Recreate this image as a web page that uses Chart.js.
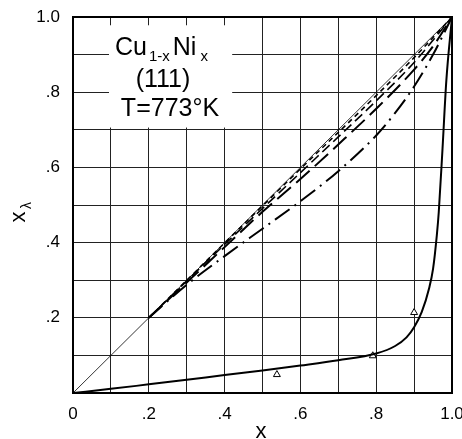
<!DOCTYPE html>
<html><head><meta charset="utf-8">
<script src="https://cdn.jsdelivr.net/npm/chart.js@4.4.1/dist/chart.umd.min.js"></script>
<style>html,body{margin:0;padding:0;background:#fff}#wrap{width:462px;height:439px}</style>
</head><body><div id="wrap"><canvas id="c" width="462" height="439"></canvas></div>
<script>
// Diagonal reference line
const diagX = [0, 1];
const diagY = [0, 1];
// Thick solid curve
const solidX = [0, 0.1, 0.2, 0.3, 0.4, 0.5, 0.6, 0.7, 0.8, 0.85, 0.88, 0.9, 0.92, 0.94, 0.95, 0.96, 0.965, 0.975, 0.985, 1.0];
const solidY = [0, 0.011, 0.023, 0.035, 0.048, 0.06, 0.073, 0.087, 0.105, 0.125, 0.148, 0.175, 0.215, 0.28, 0.33, 0.42, 0.48, 0.65, 0.83, 1.0];
// Short-dash curve (closest to diagonal)
const dashAX = [0.2, 0.4, 0.6, 0.8, 0.9, 1.0];
const dashAY = [0.2, 0.399, 0.596, 0.791, 0.892, 1.0];
// Medium-dash curve
const dashBX = [0.2, 0.4, 0.6, 0.7, 0.8, 0.9, 1.0];
const dashBY = [0.2, 0.395, 0.586, 0.681, 0.777, 0.879, 1.0];
// Long-dash curve
const dashCX = [0.2, 0.3, 0.4, 0.5, 0.6, 0.7, 0.8, 0.9, 0.95, 1.0];
const dashCY = [0.2, 0.294, 0.388, 0.482, 0.569, 0.661, 0.756, 0.86, 0.922, 1.0];
// Long dash-dot curve
const dashDX = [0.2, 0.3, 0.4, 0.5, 0.6, 0.7, 0.8, 0.85, 0.9, 0.95, 1.0];
const dashDY = [0.2, 0.288, 0.364, 0.437, 0.51, 0.59, 0.685, 0.745, 0.815, 0.9, 1.0];
// Triangle data points
const triX = [0.538, 0.791, 0.90];
const triY = [0.049, 0.099, 0.214];
// Tick labels
const xTickLabels = ['0', '.2', '.4', '.6', '.8', '1.0'];
const yTickLabels = ['', '.2', '.4', '.6', '.8', '1.0'];

const pts = (xs, ys) => xs.map((x, i) => ({x, y: ys[i]}));
const FONT = "'Liberation Sans', Arial, sans-serif";

const overlay = {
  id: 'overlay',
  beforeDatasetsDraw(chart) {
    const {ctx, scales: {x, y}} = chart;
    ctx.save();
    ctx.fillStyle = '#fff';
    const l = x.getPixelForValue(0.095), r = x.getPixelForValue(0.42);
    const t = y.getPixelForValue(0.978), b = y.getPixelForValue(0.706);
    ctx.fillRect(l, t, r - l, b - t);
    ctx.restore();
  },
  afterDraw(chart) {
    const {ctx, chartArea: a} = chart;
    ctx.save();
    ctx.strokeStyle = '#000';
    ctx.lineWidth = 2;
    ctx.strokeRect(a.left, a.top, a.right - a.left, a.bottom - a.top);
    ctx.fillStyle = '#000';
    ctx.textBaseline = 'alphabetic';
    ctx.font = '25px ' + FONT;
    ctx.textAlign = 'left';
    let cx = 115;
    ctx.fillText('Cu', cx, 55); cx += ctx.measureText('Cu').width + 2;
    ctx.font = '15px ' + FONT;
    ctx.fillText('1-x', cx, 61); cx += ctx.measureText('1-x').width + 3;
    ctx.font = '25px ' + FONT;
    ctx.fillText('Ni', cx, 55); cx += ctx.measureText('Ni').width + 4;
    ctx.font = '15px ' + FONT;
    ctx.fillText('x', cx, 61);
    ctx.font = '25px ' + FONT;
    ctx.textAlign = 'center';
    ctx.fillText('(111)', 163, 87);
    ctx.fillText('T=773\u00B0K', 170, 116);
    ctx.font = '22px ' + FONT;
    ctx.fillText('x', 261, 438);
    ctx.translate(25, 217);
    ctx.rotate(-Math.PI / 2);
    ctx.textAlign = 'center';
    ctx.font = '22px ' + FONT;
    ctx.fillText('x', 0, 0);
    ctx.font = '14px ' + FONT;
    ctx.textAlign = 'left';
    ctx.fillText('\u03BB', 8, 6);
    ctx.restore();
  }
};

new Chart(document.getElementById('c'), {
  type: 'scatter',
  data: {
    datasets: [
      {data: pts(diagX, diagY), showLine: true, borderColor: '#000', borderWidth: 0.8, pointRadius: 0},
      {data: pts(solidX, solidY), showLine: true, borderColor: '#000', borderWidth: 2, pointRadius: 0, cubicInterpolationMode: 'monotone'},
      {data: pts(dashAX, dashAY), showLine: true, borderColor: '#000', borderWidth: 1.6, borderDash: [5, 4], pointRadius: 0, cubicInterpolationMode: 'monotone'},
      {data: pts(dashBX, dashBY), showLine: true, borderColor: '#000', borderWidth: 1.6, borderDash: [10, 5], pointRadius: 0, cubicInterpolationMode: 'monotone'},
      {data: pts(dashCX, dashCY), showLine: true, borderColor: '#000', borderWidth: 2, borderDash: [18, 7], pointRadius: 0, cubicInterpolationMode: 'monotone'},
      {data: pts(dashDX, dashDY), showLine: true, borderColor: '#000', borderWidth: 2, borderDash: [18, 6, 2, 6], pointRadius: 0, cubicInterpolationMode: 'monotone'},
      {data: pts(triX, triY), showLine: false, pointStyle: 'triangle', pointRadius: 4, borderColor: '#000', borderWidth: 1, backgroundColor: '#fff'}
    ]
  },
  options: {
    responsive: false,
    animation: false,
    events: [],
    layout: {padding: {left: 0, right: 10, top: 17, bottom: 0}},
    plugins: {legend: {display: false}, tooltip: {enabled: false}},
    scales: {
      x: {
        type: 'linear', min: 0, max: 1,
        afterFit(s) { s.height = 46; s.paddingLeft = 0; s.paddingRight = 0; },
        border: {display: false},
        grid: {color: '#222', lineWidth: 1, drawTicks: false},
        ticks: {stepSize: 0.1, padding: 11, maxRotation: 0, autoSkip: false, color: '#000',
          font: {family: FONT, size: 17},
          callback(v) { const k = Math.round(v * 10); return k % 2 === 0 ? xTickLabels[k / 2] : ''; }}
      },
      y: {
        type: 'linear', min: 0, max: 1,
        afterFit(s) { s.width = 73; s.paddingTop = 0; s.paddingBottom = 0; },
        border: {display: false},
        grid: {color: '#222', lineWidth: 1, drawTicks: false},
        ticks: {stepSize: 0.1, padding: 13, autoSkip: false, color: '#000',
          font: {family: FONT, size: 17},
          callback(v) { const k = Math.round(v * 10); return k % 2 === 0 ? yTickLabels[k / 2] : ''; }}
      }
    }
  },
  plugins: [overlay]
});
</script></body></html>
